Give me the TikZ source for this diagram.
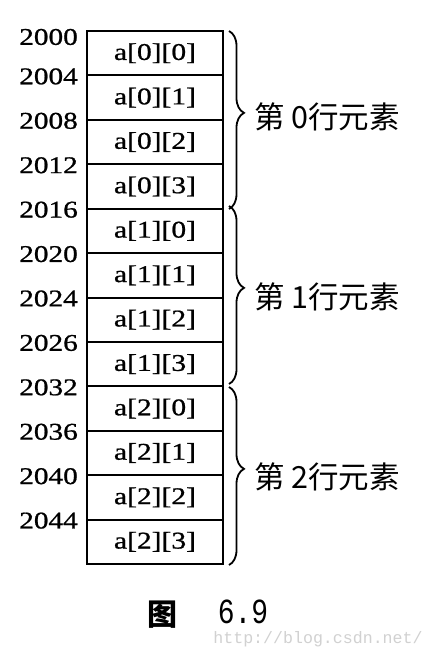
\documentclass[tikz,border=0pt]{standalone}
\usepackage{fontspec}
\setmainfont{Liberation Serif}[FakeBold=0.8]
\newfontfamily\cjk{Noto Sans CJK SC}
\newfontfamily\monof{Liberation Mono}
\usetikzlibrary{decorations.pathreplacing}
\begin{document}
\begin{tikzpicture}[x=1pt,y=-1pt,
  cell/.style={draw, line width=2pt, minimum width=136pt, minimum height=44.42pt, inner sep=0pt, font=\fontsize{24}{24}\selectfont},
  addr/.style={anchor=east, inner sep=0pt, font=\fontsize{24}{24}\selectfont},
  grp/.style={anchor=west, inner sep=0pt, font=\cjk\fontsize{30.5}{30.5}\selectfont},
  brc/.style={decorate, decoration={brace, amplitude=15pt, aspect=0.46}, line width=1.8pt},
  captext/.style={inner sep=0pt}]
\useasboundingbox (0,0) rectangle (435,656);
\fill[white] (0,0) rectangle (435,656);
% cells
\foreach \r in {0,1,2}{
  \foreach \c in {0,1,2,3}{
    \pgfmathsetmacro\k{4*\r+\c}
    \node[cell] (c\r\c) at (155, {31+44.42*(\k+0.5)}) {\scalebox{1.23}[1]{a[\r][\c]}};
  }
}
% addresses
\foreach \a [count=\i from 0] in {2000,2004,2008,2012,2016,2020,2024,2026,2032,2036,2040,2044}{
  \pgfmathsetmacro\yy{ifthenelse(\i==0,37,31+44.42*\i+1)}
  \node[addr] (ad\i) at (78, \yy) {\scalebox{1.22}[1]{\a}};
}
% braces
\coordinate (b0t) at (229,31);  \coordinate (b0b) at (229,209);
\coordinate (b1t) at (229,206); \coordinate (b1b) at (229,384);
\coordinate (b2t) at (229,387); \coordinate (b2b) at (229,565);
\draw[brc] (b0t) -- (b0b);
\draw[brc] (b1t) -- (b1b);
\draw[brc] (b2t) -- (b2b);
% group labels
\node[grp] (g0) at (254,117) {第 0行元素};
\node[grp] (g1) at (254,297) {第 1行元素};
\node[grp] (g2) at (254,477) {第 2行元素};
% caption
\node[captext, font=\cjk\bfseries\fontsize{30}{30}\selectfont] (fig) at (162,615) {图};
\node[captext, font=\monof\fontsize{28}{28}\selectfont] (num) at (243,612) {\scalebox{1}[1.26]{6.9}};
\node[captext, font=\monof\fontsize{16.6}{16.6}\selectfont, text=black!18] (wm) at (318,639) {http://blog.csdn.net/};
\end{tikzpicture}
\end{document}
